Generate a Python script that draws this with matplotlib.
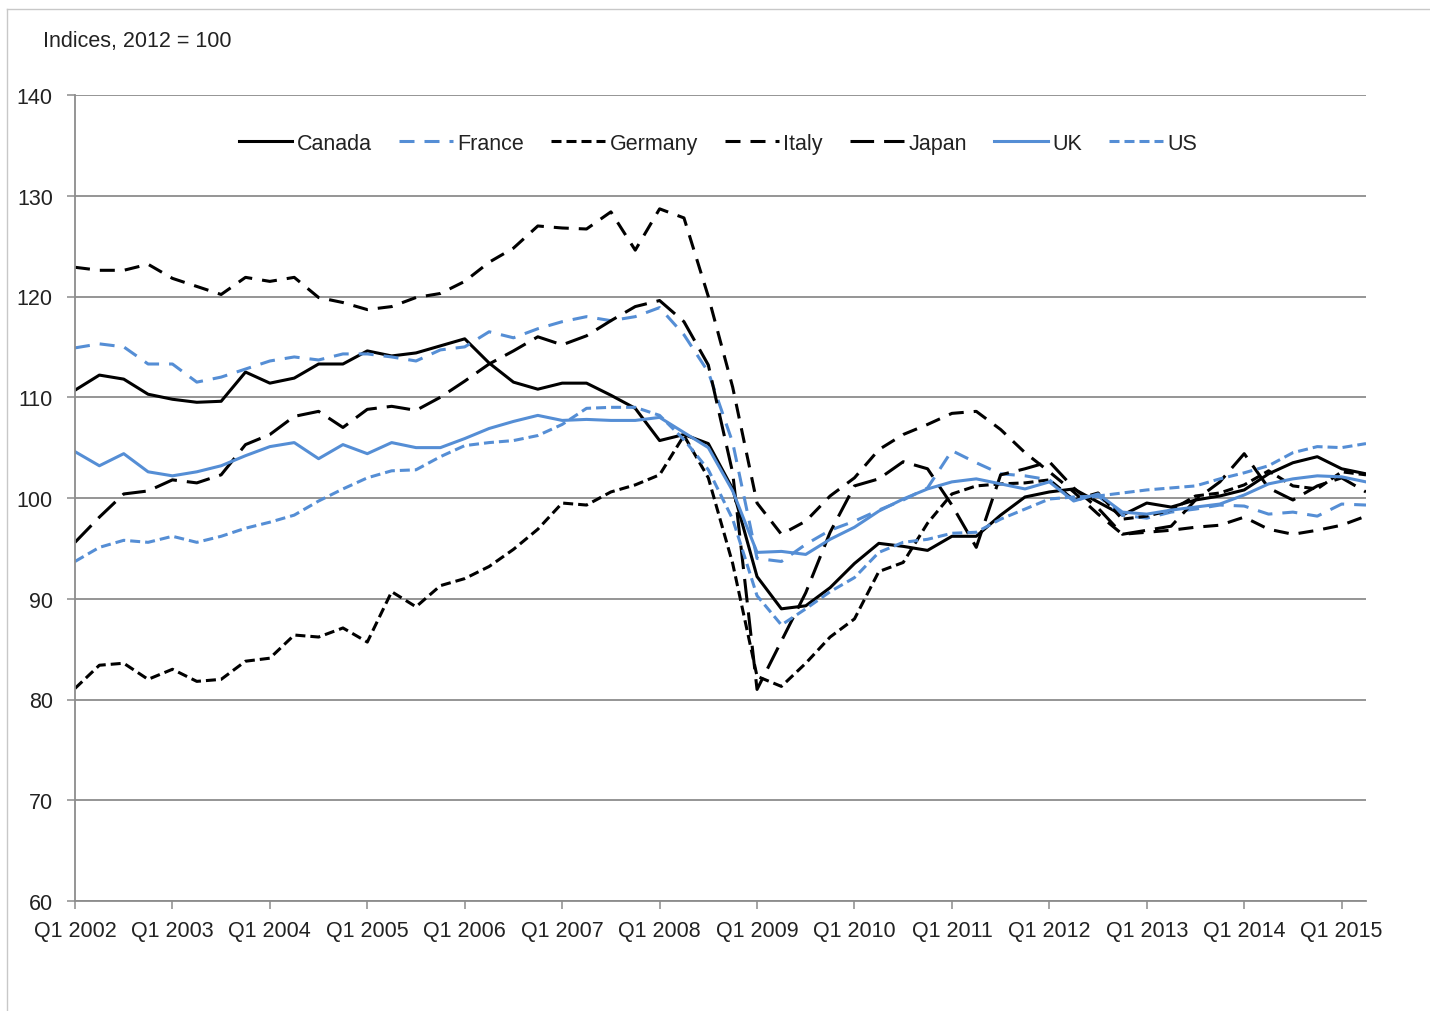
import matplotlib
matplotlib.use("Agg")
import matplotlib.pyplot as plt
from matplotlib.lines import Line2D

plt.rcParams['font.family'] = ['Liberation Sans', 'DejaVu Sans']
plt.rcParams['lines.scale_dashes'] = False

# Data: quarterly indices, Q1 2002 .. Q2 2015 (2012 = 100)

tick_labels = ["Q1 2002", "Q1 2003", "Q1 2004", "Q1 2005", "Q1 2006", "Q1 2007",
               "Q1 2008", "Q1 2009", "Q1 2010", "Q1 2011", "Q1 2012", "Q1 2013",
               "Q1 2014", "Q1 2015"]

canada = [110.7, 112.2, 111.8, 110.3, 109.8, 109.5, 109.6, 112.5, 111.4, 111.9,
          113.3, 113.3, 114.6, 114.1, 114.4, 115.1, 115.8, 113.4, 111.5, 110.8,
          111.4, 111.4, 110.2, 108.9, 105.7, 106.3, 105.4, 100.9, 92.2, 89.0,
          89.3, 91.1, 93.5, 95.5, 95.2, 94.8, 96.2, 96.2, 98.3, 100.1,
          100.6, 100.9, 99.6, 98.3, 99.5, 99.1, 99.8, 100.2, 100.8, 102.4,
          103.5, 104.1, 102.9, 102.4]

france = [114.9, 115.3, 115.0, 113.3, 113.3, 111.5, 112.0, 112.8, 113.6, 114.0,
          113.7, 114.3, 114.3, 114.0, 113.6, 114.7, 115.0, 116.5, 115.9, 116.8,
          117.5, 118.0, 117.6, 118.0, 118.9, 116.2, 112.5, 105.5, 94.0, 93.7,
          95.4, 96.8, 97.7, 98.8, 99.8, 101.0, 104.7, 103.5, 102.4, 102.2,
          101.8, 99.8, 100.2, 98.3, 98.0, 98.6, 98.9, 99.3, 99.2, 98.4,
          98.6, 98.2, 99.4, 99.3]

germany = [81.1, 83.4, 83.6, 82.0, 83.0, 81.8, 82.0, 83.8, 84.1, 86.4,
           86.2, 87.1, 85.7, 90.7, 89.2, 91.3, 92.0, 93.2, 94.9, 96.9,
           99.5, 99.3, 100.6, 101.3, 102.3, 106.2, 102.0, 93.5, 82.3, 81.3,
           83.6, 86.2, 88.0, 92.7, 93.6, 97.5, 100.4, 101.2, 101.4, 101.5,
           101.8, 99.8, 100.5, 97.9, 98.2, 98.8, 100.2, 100.5, 101.3, 102.7,
           101.2, 100.9, 102.6, 102.3]

italy = [122.9, 122.6, 122.6, 123.2, 121.8, 121.0, 120.2, 121.9, 121.5, 121.9,
         119.9, 119.4, 118.7, 119.0, 119.9, 120.3, 121.5, 123.4, 124.8, 127.0,
         126.8, 126.7, 128.4, 124.6, 128.7, 127.8, 120.0, 111.0, 99.5, 96.4,
         97.7, 100.2, 102.0, 104.8, 106.3, 107.3, 108.4, 108.6, 106.8, 104.5,
         102.6, 100.6, 98.4, 96.4, 96.6, 96.8, 97.1, 97.3, 98.1, 96.9,
         96.4, 96.8, 97.3, 98.2]

japan = [95.6, 98.1, 100.4, 100.7, 101.8, 101.5, 102.3, 105.3, 106.3, 108.1,
         108.6, 107.0, 108.8, 109.1, 108.7, 110.0, 111.6, 113.3, 114.6, 116.0,
         115.2, 116.1, 117.6, 119.0, 119.6, 117.5, 113.2, 102.5, 81.0, 85.8,
         90.6, 96.6, 101.2, 101.9, 103.6, 102.9, 99.3, 95.1, 102.3, 102.9,
         103.6, 101.0, 99.0, 96.4, 96.8, 97.2, 99.8, 101.6, 104.4, 101.0,
         99.8, 101.2, 102.0, 100.6]

uk = [104.6, 103.2, 104.4, 102.6, 102.2, 102.6, 103.2, 104.2, 105.1, 105.5,
      103.9, 105.3, 104.4, 105.5, 105.0, 105.0, 105.9, 106.9, 107.6, 108.2,
      107.7, 107.8, 107.7, 107.7, 108.0, 106.5, 105.0, 100.7, 94.6, 94.7,
      94.4, 95.9, 97.1, 98.7, 99.9, 100.9, 101.6, 101.9, 101.4, 100.9,
      101.6, 99.7, 100.4, 98.6, 98.4, 98.8, 99.1, 99.4, 100.3, 101.4,
      101.9, 102.2, 102.1, 101.6]

us = [93.7, 95.1, 95.8, 95.6, 96.2, 95.6, 96.2, 97.0, 97.6, 98.3,
      99.7, 100.9, 102.0, 102.7, 102.8, 104.1, 105.2, 105.5, 105.7, 106.2,
      107.3, 108.9, 109.0, 109.0, 108.2, 105.8, 102.8, 97.9, 90.3, 87.4,
      89.0, 90.7, 92.1, 94.6, 95.6, 95.9, 96.5, 96.6, 97.9, 98.9,
      99.9, 100.1, 100.2, 100.5, 100.8, 101.0, 101.2, 101.9, 102.5, 103.2,
      104.5, 105.1, 105.0, 105.4]

BLUE = '#558ED5'
GRID = '#8C8C8C'
TEXT = '#222222'
FS = 15.5

short_dash = (0, (7.2, 3.6))
mid_dash = (0, (10.8, 7.2))
long_dash = (0, (17.0, 7.2))

series = [
    ("Canada", canada, 'black', '-'),
    ("France", france, BLUE, mid_dash),
    ("Germany", germany, 'black', short_dash),
    ("Italy", italy, 'black', mid_dash),
    ("Japan", japan, 'black', long_dash),
    ("UK", uk, BLUE, '-'),
    ("US", us, BLUE, short_dash),
]

# Figure

fig = plt.figure(figsize=(14.3, 10.12), dpi=100)
ax = fig.add_axes([75 / 1430, 1 - 902 / 1012, (1366 - 75) / 1430, (902 - 96) / 1012])

x = list(range(len(canada)))
for name, vals, color, ls in series:
    ax.plot(x, vals, color=color, linestyle=ls, linewidth=2.2, label=name)

ax.set_xlim(0, len(canada) - 1)
ax.set_ylim(60, 140)
ax.set_yticks(range(60, 141, 10))
ax.set_xticks(range(0, len(canada), 4))
ax.set_xticklabels(tick_labels)

ax.yaxis.grid(True, color=GRID, linewidth=1.3)
ax.set_axisbelow(True)
for side in ['top', 'right']:
    ax.spines[side].set_visible(False)
for side in ['left', 'bottom']:
    ax.spines[side].set_color(GRID)
    ax.spines[side].set_linewidth(1.3)

ax.tick_params(axis='both', colors=GRID, labelcolor=TEXT, labelsize=FS,
               length=6, width=1.1, direction='out')
ax.tick_params(axis='y', pad=10)
ax.tick_params(axis='x', pad=8)

ax.legend(ncol=7, loc='center', bbox_to_anchor=(0.498, 0.94), frameon=False,
          fontsize=FS, handlelength=2.5, handletextpad=0.2, columnspacing=1.27,
          labelcolor=TEXT)

fig.text(43 / 1430, 1 - 41 / 1012, "Indices, 2012 = 100", fontsize=FS,
         color=TEXT, ha='left', va='center')

# outer frame of the chart area
fig.add_artist(Line2D([7 / 1430, 1], [1 - 10 / 1012] * 2, transform=fig.transFigure,
                      color='#C8C8C8', linewidth=1))
fig.add_artist(Line2D([7 / 1430] * 2, [0, 1 - 10 / 1012], transform=fig.transFigure,
                      color='#C8C8C8', linewidth=1))

fig.savefig("out.png", dpi=100)
